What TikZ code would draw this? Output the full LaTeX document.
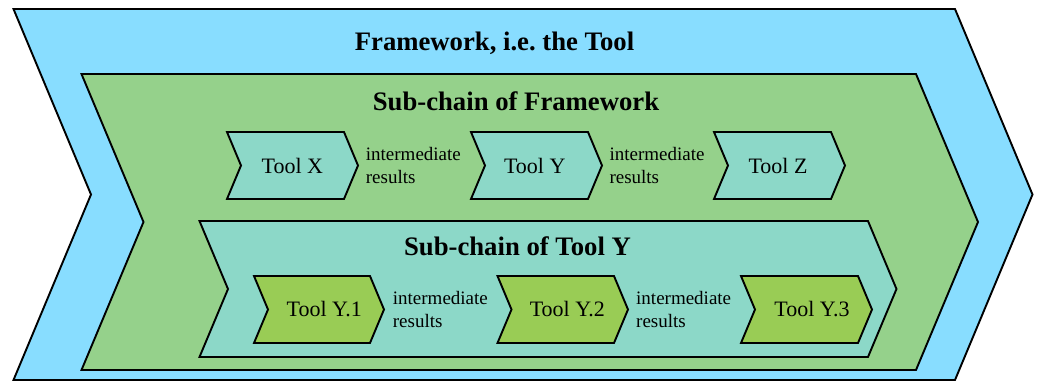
\documentclass[tikz,border=0pt]{standalone}
\usepackage{fontspec}
\setmainfont{Liberation Serif}
\definecolor{skyblue}{HTML}{88DDFF}
\definecolor{leafgreen}{HTML}{95D18B}
\definecolor{tealfill}{HTML}{8CD8C8}
\definecolor{limefill}{HTML}{99CC55}
\newcommand{\chevronbox}[7]{% name, left, top, right, bottom, depth, fill
  \draw[chevline, fill=#7] (#2,#3) -- (#4,#3) -- ({#4+#6},{(#3+#5)/2}) -- (#4,#5) -- (#2,#5) -- ({#2+#6},{(#3+#5)/2}) -- cycle;
  \coordinate (#1) at ({(#2+#4+#6)/2},{(#3+#5)/2});
}
\tikzset{
  chevline/.style={draw=black, line width=1.9pt, line join=miter},
  titletext/.style={anchor=base, inner sep=0pt, font=\fontsize{26.7}{32}\selectfont\bfseries},
  tooltext/.style={anchor=base, inner sep=0pt, font=\fontsize{22}{26}\selectfont},
  midtext/.style={anchor=base west, inner sep=0pt, font=\fontsize{19}{23}\selectfont},
}
\newcommand{\tworows}{\begin{tabular}[t]{@{}l@{}}intermediate\\results\end{tabular}}
\begin{document}
\begin{tikzpicture}[x=1pt,y=-1pt]
\useasboundingbox (0,0) rectangle (1037,381);
% outer framework
\chevronbox{fw}{13.5}{9}{955}{380}{77.5}{skyblue}
\node[titletext] (fwtitle) at (494.5,50) {Framework, i.e.\ the Tool};
% sub-chain of framework
\chevronbox{sc}{81.5}{74}{916}{370}{62}{leafgreen}
\node[titletext] (sctitle) at (516,110.7) {Sub-chain of Framework};
\chevronbox{tx}{227}{132}{344}{199}{14}{tealfill}
\chevronbox{ty}{471}{132}{588}{199}{14}{tealfill}
\chevronbox{tz}{714}{132}{831}{199}{14}{tealfill}
\node[tooltext] (txl) at (292.4,173.3) {Tool X};
\node[tooltext] (tyl) at (534.7,173.3) {Tool Y};
\node[tooltext] (tzl) at (778,173.3) {Tool Z};
\node[midtext] (ir1) at (365.7,160) {\tworows};
\node[midtext] (ir2) at (609.3,160) {\tworows};
% sub-chain of tool Y
\chevronbox{sy}{199.5}{221}{868}{357}{28.5}{tealfill}
\node[titletext] (sytitle) at (517.5,255) {Sub-chain of Tool Y};
\chevronbox{y1}{254}{276}{370}{343}{14}{limefill}
\chevronbox{y2}{497.5}{276}{614}{343}{14}{limefill}
\chevronbox{y3}{741}{276}{858}{343}{14}{limefill}
\node[tooltext] (y1l) at (324.2,316.7) {Tool Y.1};
\node[tooltext] (y2l) at (567.3,316.7) {Tool Y.2};
\node[tooltext] (y3l) at (812,316.7) {Tool Y.3};
\node[midtext] (ir3) at (392.7,304) {\tworows};
\node[midtext] (ir4) at (636,304) {\tworows};
\end{tikzpicture}
\end{document}
